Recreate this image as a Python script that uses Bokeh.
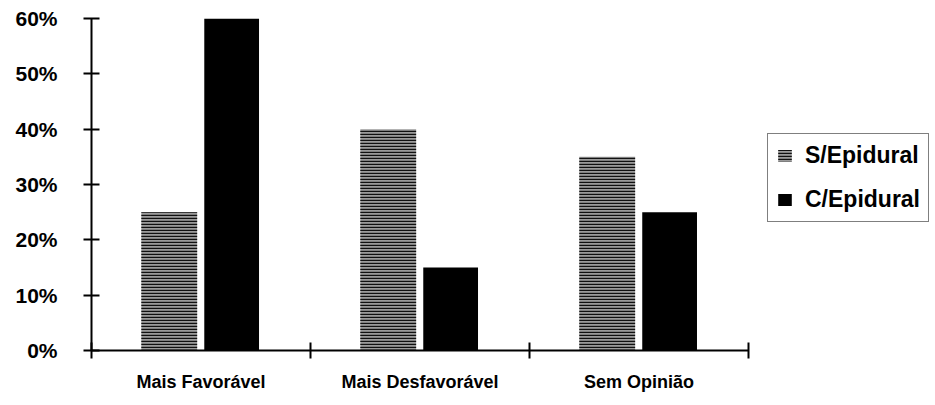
from bokeh.plotting import figure
from bokeh.models import (Range1d, FixedTicker, PrintfTickFormatter, Legend,
                          LegendItem, ColumnDataSource)
from bokeh.transform import dodge
from bokeh.embed import file_html
from bokeh.resources import INLINE

categories = ["Mais Favorável", "Mais Desfavorável", "Sem Opinião"]
series_names = ["S/Epidural", "C/Epidural"]
s_epidural = [25, 40, 35]
c_epidural = [60, 15, 25]
y_ticks = [0, 10, 20, 30, 40, 50, 60]

pos = [i + 0.5 for i in range(len(categories))]
bounds = [i for i in range(len(categories) + 1)]
src = ColumnDataSource(dict(x=pos, s=s_epidural, c=c_epidural))

FONT = "Liberation Sans"

# frame extends past the last category to host the legend; the axis stops at 3
p = figure(width=935, height=405,
           x_range=Range1d(0, 3.845), y_range=Range1d(0, max(y_ticks)),
           output_backend="svg", toolbar_location=None,
           min_border_left=91, min_border_right=2,
           min_border_top=18, min_border_bottom=55)
p.outline_line_color = None
p.xgrid.visible = False
p.ygrid.visible = False

r_s = p.vbar(x=dodge('x', -0.145), top='s', width=0.255, source=src,
             fill_color="#9a9a9a", line_color=None,
             hatch_pattern="-", hatch_color="#111111", hatch_scale=3, hatch_weight=1.4)
r_c = p.vbar(x=dodge('x', 0.14), top='c', width=0.25, source=src,
             fill_color="black", line_color=None)

# x axis
p.xaxis.bounds = (0, len(categories))
p.xaxis.ticker = FixedTicker(ticks=pos, minor_ticks=bounds)
p.xaxis.major_label_overrides = {pos[i]: categories[i] for i in range(len(categories))}
p.xaxis.major_tick_in = 0
p.xaxis.major_tick_out = 0
p.xaxis.minor_tick_in = 8
p.xaxis.minor_tick_out = 8
p.xaxis.minor_tick_line_width = 2
p.xaxis.minor_tick_line_color = "black"
p.xaxis.axis_line_width = 2
p.xaxis.axis_line_color = "black"
p.xaxis.major_label_standoff = 13
p.xaxis.major_label_text_font_size = "18px"

# y axis
p.yaxis.ticker = FixedTicker(ticks=y_ticks, minor_ticks=[])
p.yaxis.formatter = PrintfTickFormatter(format="%d%%")
p.yaxis.major_tick_in = 8
p.yaxis.major_tick_out = 8
p.yaxis.major_tick_line_width = 2
p.yaxis.major_tick_line_color = "black"
p.yaxis.axis_line_width = 2
p.yaxis.axis_line_color = "black"
p.yaxis.major_label_standoff = 26
p.yaxis.major_label_text_font_size = "21px"

for ax in (p.xaxis, p.yaxis):
    ax.major_label_text_font = FONT
    ax.major_label_text_font_style = "bold"
    ax.major_label_text_color = "black"

legend = Legend(items=[LegendItem(label=series_names[0], renderers=[r_s]),
                       LegendItem(label=series_names[1], renderers=[r_c])],
                location=(676, 128), orientation="vertical",
                border_line_color="black", border_line_width=1.5,
                background_fill_color="white", background_fill_alpha=1,
                padding=8, spacing=17, margin=0,
                glyph_width=17, glyph_height=15, label_standoff=12,
                label_height=25,
                label_text_font=FONT, label_text_font_size="23px",
                label_text_font_style="bold",
                label_text_color="black")
p.add_layout(legend, "center")

open("out.html", "w").write(file_html(p, INLINE))
